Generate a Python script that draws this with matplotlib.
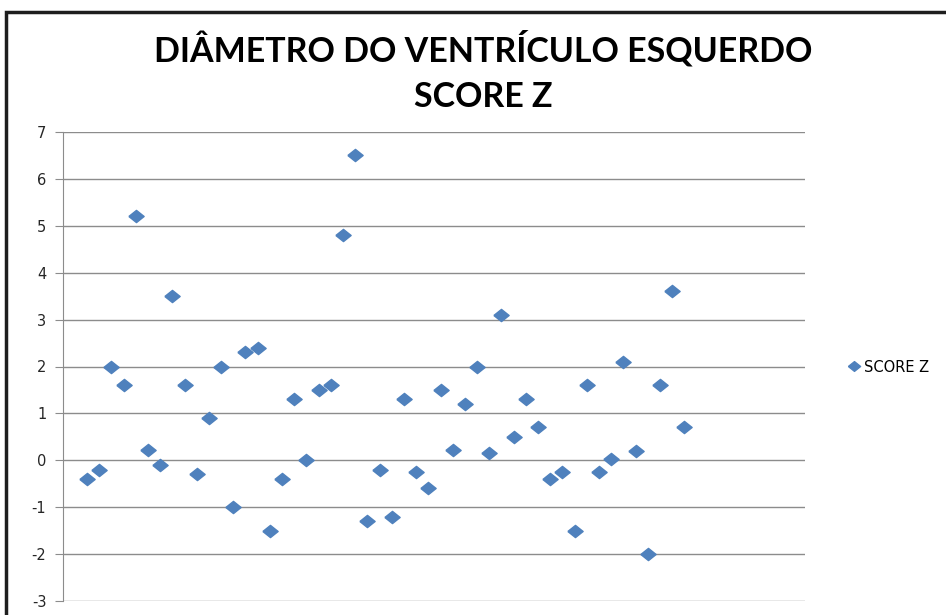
import numpy as np
import matplotlib.pyplot as plt
from matplotlib.patches import Rectangle

# data
titulo = "DIÂMETRO DO VENTRÍCULO ESQUERDO\nSCORE Z"
serie = "SCORE Z"
score_z = [-0.4, -0.2, 2.0, 1.6, 5.2, 0.23, -0.1, 3.5, 1.6, -0.3,
           0.9, 2.0, -1.0, 2.3, 2.4, -1.5, -0.4, 1.3, 0.0, 1.5,
           1.6, 4.8, 6.5, -1.3, -0.2, -1.2, 1.3, -0.25, -0.6, 1.5,
           0.22, 1.2, 2.0, 0.15, 3.1, 0.5, 1.3, 0.7, -0.4, -0.25,
           -1.5, 1.6, -0.25, 0.02, 2.1, 0.2, -2.0, 1.6, 3.6, 0.7]
pacientes = np.arange(1, len(score_z) + 1)
yticks = list(range(-3, 8))

plt.rcParams['axes.unicode_minus'] = False

W, H = 946, 615
fig = plt.figure(figsize=(W / 100, H / 100), dpi=100)

# moldura do grafico (Excel)
fig.patches.append(Rectangle((6 / W, -0.1), 1.1, 1 - 12 / H + 0.1,
                             transform=fig.transFigure, fill=False,
                             edgecolor='#1e1e1e', linewidth=2.5))

ax = fig.add_axes([63 / W, 1 - 601 / H, (805 - 63) / W, (601 - 132) / H])

# diamante um pouco mais largo que alto
diamante = [(-1, 0), (0, 0.8), (1, 0), (0, -0.8), (-1, 0)]
ax.plot(pacientes, score_z, linestyle='none', marker=diamante,
        markersize=11, color='#4F81BD', label=serie, zorder=3)

ax.set_xlim(-0.97, 59.9)
ax.set_ylim(-3, 7)
ax.set_yticks(yticks)
ax.set_xticks([])
ax.yaxis.grid(True, color='#8c8c8c', linewidth=1)
ax.set_axisbelow(True)
for s in ['top', 'right', 'bottom']:
    ax.spines[s].set_visible(False)
ax.spines['left'].set_color('#8c8c8c')
ax.tick_params(axis='y', direction='out', length=6, color='#8c8c8c',
               labelsize=10.5, labelcolor='#262626', pad=6)

fig.text(483.5 / W, 1 - 72 / H, titulo, ha='center', va='center',
         fontsize=24.5, fontweight='bold', family='Lato', linespacing=1.5)

fig.legend(loc='center left', bbox_to_anchor=(832 / W, 1 - 367 / H),
           frameon=False, fontsize=10.5, handletextpad=0.1,
           handlelength=1.2, markerscale=0.8)

fig.savefig('out.png', dpi=100)
